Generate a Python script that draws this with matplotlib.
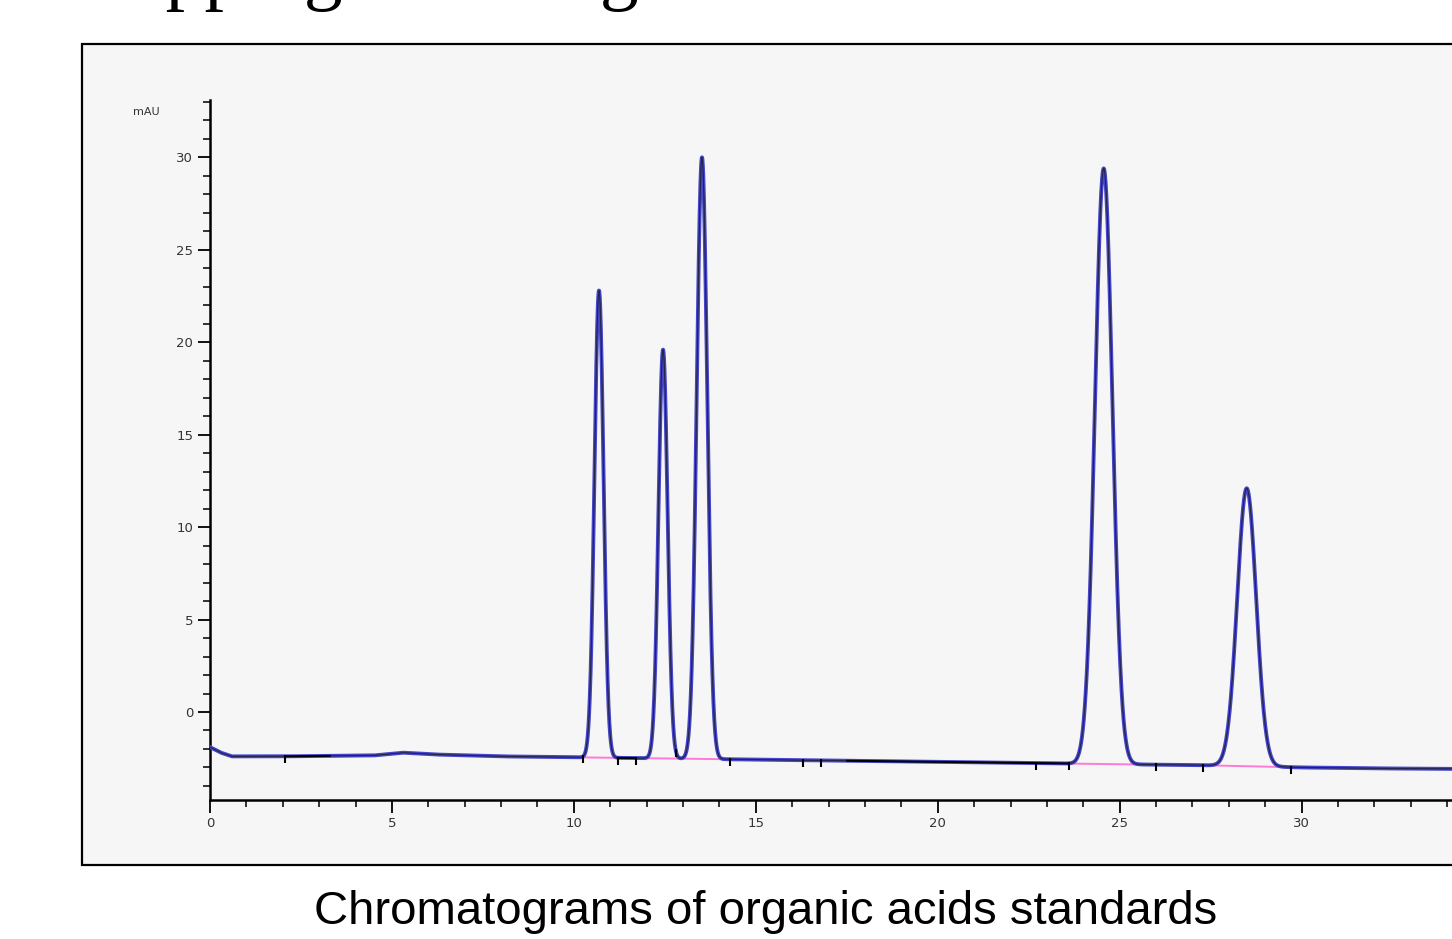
import numpy as np
import matplotlib.pyplot as plt
from matplotlib.patches import Rectangle

# ---- data ----
# baseline anchor points (time in min, signal in mAU)
base_t = [0.0, 0.3, 0.6, 2.0, 4.5, 5.3, 6.2, 8.0, 10.0, 12.0, 14.0, 16.0, 18.0, 20.0, 22.0, 24.0, 26.0, 28.0, 30.0, 32.0, 36.0]
base_y = [-1.9, -2.2, -2.4, -2.4, -2.35, -2.2, -2.3, -2.4, -2.45, -2.5, -2.55, -2.6, -2.65, -2.7, -2.75, -2.8, -2.85, -2.9, -3.0, -3.05, -3.1]

# peaks: retention time, apex value, width (sigma, min)
peak_rt = [10.69, 12.45, 13.52, 24.56, 28.49]
peak_top = [22.8, 19.6, 30.0, 29.4, 12.1]
peak_sd = [0.125, 0.125, 0.145, 0.24, 0.26]

# integration baselines (start, end) drawn pink
integ = [(10.25, 14.3), (23.6, 26.0), (27.3, 29.7)]
# integration event marks
events = [2.06, 10.25, 11.2, 11.7, 12.8, 14.3, 16.3, 16.8, 22.7, 23.6, 26.0, 27.3, 29.7]
# black baseline segments
black_seg = [(2.06, 3.3), (11.2, 11.7), (17.5, 23.6)]

xticks = [0, 5, 10, 15, 20, 25, 30, 35]
yticks = [0, 5, 10, 15, 20, 25, 30]

# ---- figure ----
fig = plt.figure(figsize=(14.52, 9.39), dpi=100)
fig.patch.set_facecolor('white')

# outer frame of the screenshot
fig.patches.append(Rectangle((82/1452, 1-865/939), 1.2, (865-44)/939, transform=fig.transFigure,
                             facecolor='#f6f6f6', edgecolor='black', lw=1.6, zorder=-1))

ax = fig.add_axes([210/1452, 1-800/939, 1310/1452, 700/939])
ax.set_zorder(2)
ax.set_facecolor('none')

t = np.linspace(0, 36, 6000)
sig = np.interp(t, base_t, base_y)
for rt, top, sd in zip(peak_rt, peak_top, peak_sd):
    b = np.interp(rt, base_t, base_y)
    sig = sig + (top - b) * np.exp(-0.5 * ((t - rt) / sd) ** 2)

for s, e in integ:
    ax.plot([s, e], [np.interp(s, base_t, base_y), np.interp(e, base_t, base_y)],
            color='#ff7ad6', lw=1.4, zorder=2)

ax.plot(t, sig, color='#4646cc', lw=2.8, zorder=3)
ax.plot(t, sig, color='#24244e', lw=0.9, zorder=4)

for s, e in black_seg:
    m = (t >= s) & (t <= e)
    ax.plot(t[m], sig[m], color='black', lw=1.4, zorder=5)

ev_y = np.interp(events, t, sig)
ax.plot(events, ev_y - 0.15, ls='none', marker='|', color='black', ms=6, mew=1.5, zorder=6)

ax.set_xlim(0, 36)
ax.set_ylim(-4.76, 33.1)
for sp in ['top', 'right']:
    ax.spines[sp].set_visible(False)
ax.spines['left'].set_linewidth(1.8)
ax.spines['bottom'].set_linewidth(1.8)

ax.set_xticks(xticks)
ax.set_xticks(np.arange(0, 37, 1), minor=True)
ax.set_yticks(yticks)
ax.set_yticks(np.arange(-4, 34, 1), minor=True)
ax.tick_params(which='major', length=9, width=1.4, labelsize=9.5, colors='#333333',
               direction='out', pad=3)
ax.tick_params(which='minor', length=5, width=1.2, direction='out', colors='#222222')
ax.tick_params(axis='both', which='both', color='#111111')

fig.text(133/1452, 1-112/939, 'mAU', fontsize=8, color='#333333', va='center')

# title cut off at top of the slide
fig.text(62/1452, 1 + 5/939, 'Mapping Tracking', fontsize=56, family='Liberation Serif',
         va='baseline', ha='left', color='black')

fig.text(766/1452, 1-912/939, 'Chromatograms of organic acids standards', fontsize=34,
         family='Liberation Sans', ha='center', va='center')

fig.savefig('out.png', dpi=100)
